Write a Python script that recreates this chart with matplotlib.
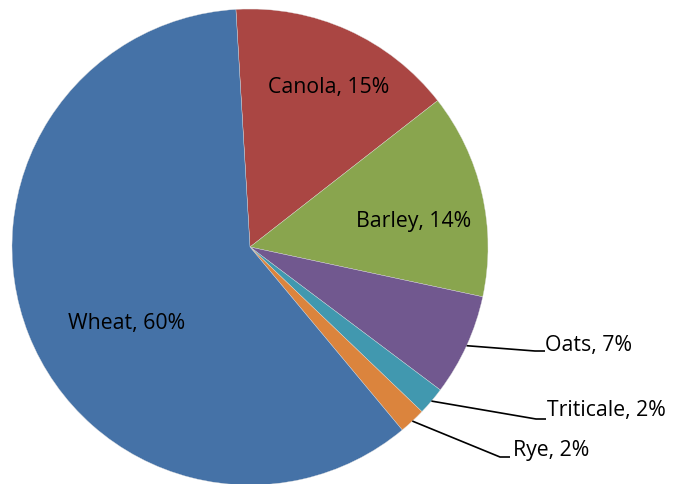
import numpy as np
import matplotlib
matplotlib.use("Agg")
import matplotlib.pyplot as plt

categories = ["Canola", "Barley", "Oats", "Triticale", "Rye", "Wheat"]
values = [15.4, 13.9, 6.9, 1.9, 1.8, 60.1]
colors = ["#AA4643", "#89A54E", "#71588F", "#4198AF", "#DB843D", "#4572A7"]

W, H = 673, 485
fig = plt.figure(figsize=(W / 100, H / 100), dpi=100)
ax = fig.add_axes([0, 0, 1, 1])

cx, cy, R = 250, H - 248, 238
start = 93.4
wedges, _ = ax.pie(values, colors=colors, startangle=start, counterclock=False,
                   center=(cx, cy), radius=R, frame=True,
                   wedgeprops=dict(edgecolor="#dddddd", linewidth=0.25))
ax.set_xlim(0, W)
ax.set_ylim(0, H)
ax.set_aspect("equal")
ax.axis("off")

total = sum(values)
labels = [f"{c}, {round(v / total * 100)}%" for c, v in zip(categories, values)]
font = dict(fontsize=15.3, family=["Open Sans", "DejaVu Sans"], color="black")

# inside labels (pixel positions in reference)
inside = {"Canola": (329, 87), "Barley": (414, 221), "Wheat": (127, 323)}
for i, c in enumerate(categories):
    if c in inside:
        px, py = inside[c]
        ax.text(px, H - py, labels[i], ha="center", va="center", **font)

# outside labels with leader lines
outside = {"Oats": ((545, 352), (545, 345)),
           "Triticale": ((546, 420), (547, 411)),
           "Rye": ((510, 458), (513, 451))}
for i, c in enumerate(categories):
    if c in outside:
        w = wedges[i]
        mid = np.deg2rad((w.theta1 + w.theta2) / 2)
        ax_, ay_ = cx + R * np.cos(mid), cy + R * np.sin(mid)
        (ex, ey), (tx, ty) = outside[c]
        ax.plot([ax_, ex - 10, ex], [ay_, H - ey, H - ey], color="black", lw=1.2,
                solid_capstyle="butt")
        ax.text(tx, H - ty, labels[i], ha="left", va="center", **font)

fig.savefig("out.png", dpi=100)
